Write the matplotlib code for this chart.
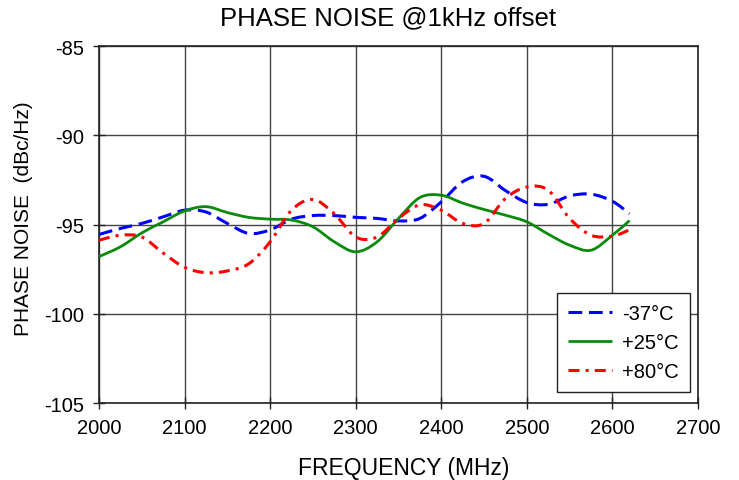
import matplotlib
matplotlib.use('Agg')
import matplotlib.pyplot as plt
import numpy as np
from matplotlib.path import Path
from matplotlib.patches import PathPatch
from matplotlib.lines import Line2D

plt.rcParams['font.family'] = ['Liberation Sans', 'DejaVu Sans']
plt.rcParams['axes.unicode_minus'] = False

# frequency points (MHz)
freq = [2000, 2025, 2050, 2075, 2100, 2125, 2150, 2175, 2200, 2225, 2250, 2275, 2300,
        2325, 2350, 2375, 2400, 2425, 2450, 2475, 2500, 2525, 2550, 2575, 2600, 2620]

pn_m37 = [-95.56, -95.22, -94.94, -94.57, -94.20, -94.30, -94.94, -95.50, -95.30, -94.70,
          -94.50, -94.50, -94.60, -94.66, -94.80, -94.66, -93.73, -92.60, -92.30, -93.10,
          -93.77, -93.87, -93.40, -93.30, -93.70, -94.40]
pn_p25 = [-96.80, -96.25, -95.47, -94.85, -94.24, -94.00, -94.33, -94.60, -94.70, -94.75,
          -95.13, -95.97, -96.53, -95.97, -94.66, -93.49, -93.36, -93.80, -94.16, -94.48,
          -94.85, -95.54, -96.16, -96.44, -95.60, -94.78]
pn_p80 = [-95.88, -95.60, -95.70, -96.60, -97.40, -97.70, -97.60, -97.20, -95.97, -94.20,
          -93.60, -94.40, -95.70, -95.70, -94.66, -93.90, -94.20, -94.94, -94.94, -93.54,
          -92.90, -93.08, -94.66, -95.60, -95.65, -95.30]

labels = ['-37°C', '+25°C', '+80°C']


def smooth_path(x, y):
    # Excel style smoothed line: cubic bezier segments through the points
    p = np.column_stack([x, y]).astype(float)
    n = len(p)
    verts = [p[0]]
    codes = [Path.MOVETO]
    for i in range(n - 1):
        p0 = p[i - 1] if i > 0 else p[i]
        p3 = p[i + 2] if i + 2 < n else p[i + 1]
        c1 = p[i] + (p[i + 1] - p0) / 6.0
        c2 = p[i + 1] - (p3 - p[i]) / 6.0
        verts += [c1, c2, p[i + 1]]
        codes += [Path.CURVE4] * 3
    return Path(verts, codes)


fig = plt.figure(figsize=(7.39, 4.81), dpi=100)
ax = fig.add_axes([99 / 739, 1 - 404 / 481, 599 / 739, 357 / 481])

styles = [
    dict(color='#0000ff', lw=2.2, ls=(0, (4.5, 2.2))),
    dict(color='#0a8a0a', lw=2.0, ls='-'),
    dict(color='#ff0000', lw=2.2, ls=(0, (3.6, 2.0, 1.0, 2.0))),
]

for ys, st in zip([pn_m37, pn_p25, pn_p80], styles):
    patch = PathPatch(smooth_path(freq, ys), facecolor='none', edgecolor=st['color'],
                      lw=st['lw'], linestyle=st['ls'], zorder=3)
    patch.set_capstyle('butt')
    ax.add_patch(patch)

ax.set_xlim(2000, 2700)
ax.set_ylim(-105, -85)
ax.set_xticks(np.arange(2000, 2701, 100))
ax.set_yticks(np.arange(-105, -84, 5))
ax.grid(True, color='#444444', lw=1.0)
ax.set_axisbelow(True)
for s in ax.spines.values():
    s.set_color('#222222')
    s.set_linewidth(1.2)
ax.tick_params(direction='inout', length=9, width=1, labelsize=14.5, pad=6, color='#222222')

ax.set_xlabel('FREQUENCY (MHz)', fontsize=16.5)
ax.xaxis.set_label_coords(0.509, -0.148)
ax.set_ylabel('PHASE NOISE  (dBc/Hz)', fontsize=15)
ax.yaxis.set_label_coords(-0.110, 0.52)
fig.text(388 / 739, 1 - 18 / 481, 'PHASE NOISE @1kHz offset', fontsize=18.5,
         ha='center', va='center')

handles = [Line2D([], [], color=st['color'], lw=st['lw'], linestyle=st['ls'],
                  solid_capstyle='butt', dash_capstyle='butt') for st in styles]
leg = ax.legend(handles, labels, loc='lower right', bbox_to_anchor=(0.987, 0.031),
                borderaxespad=0, fontsize=14.5, fancybox=False, framealpha=1,
                edgecolor='#222222', handlelength=2.2, labelspacing=0.5,
                borderpad=0.55, handletextpad=0.5)
leg.get_frame().set_linewidth(1.0)

fig.savefig('out.png', dpi=100)
